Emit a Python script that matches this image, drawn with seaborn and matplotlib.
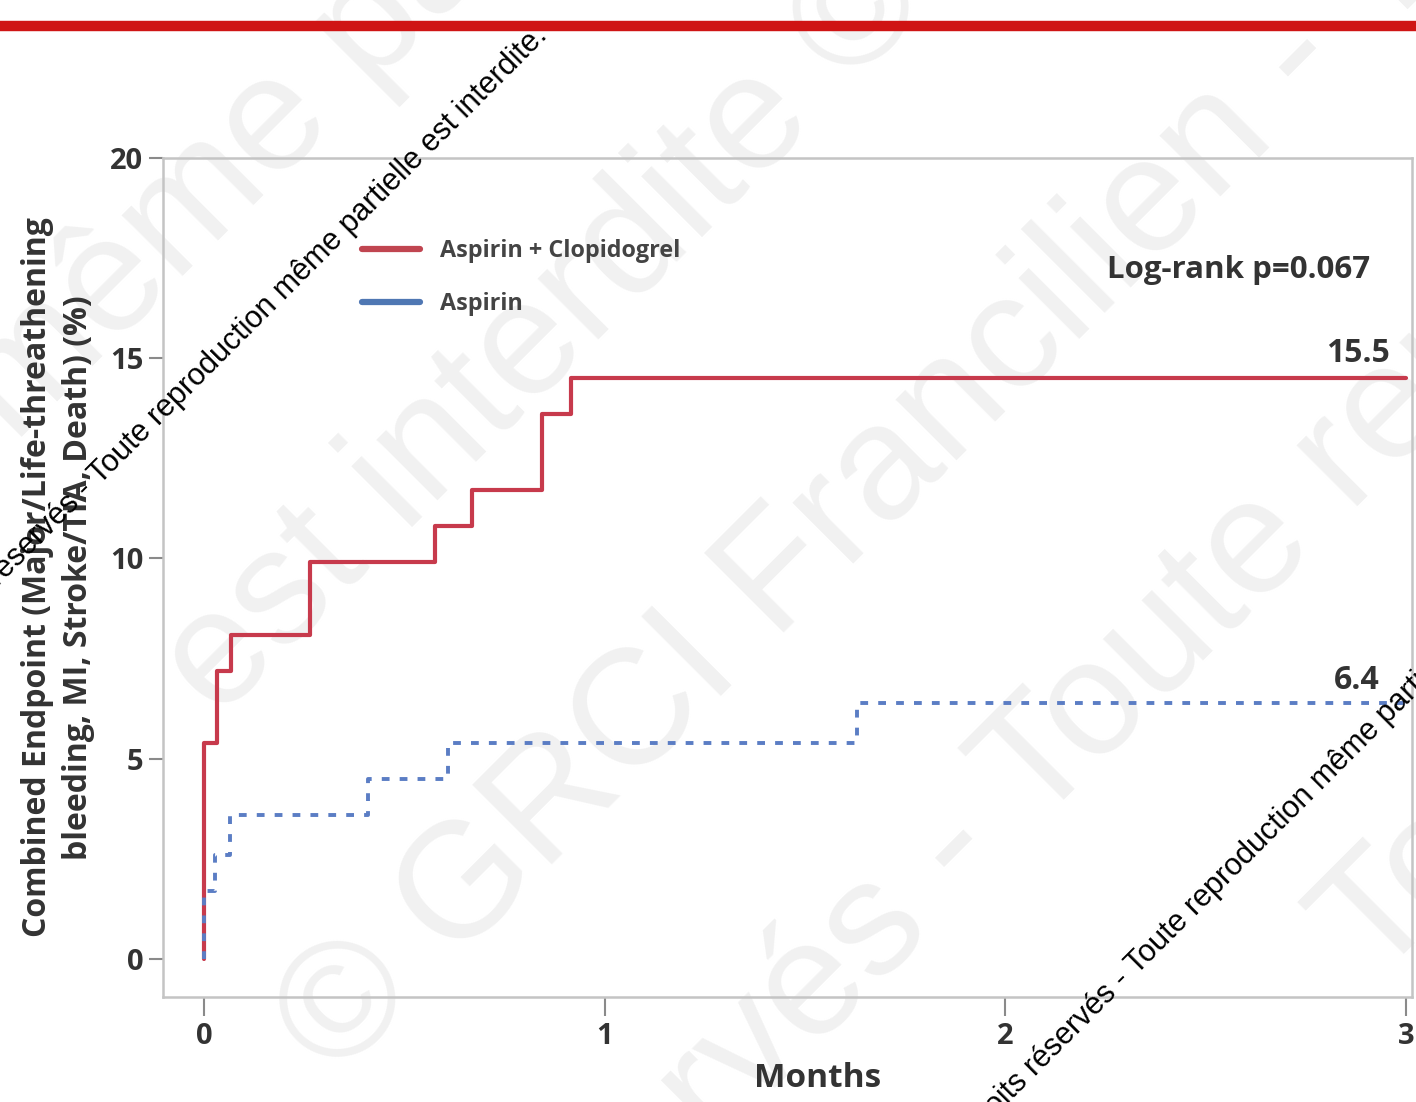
import numpy as np
import pandas as pd
import matplotlib
matplotlib.use("Agg")
import matplotlib.pyplot as plt
import seaborn as sns
from matplotlib.lines import Line2D

# Cumulative incidence of the combined endpoint (%), step changes by month
months_dapt = [0.0, 0.0, 0.032, 0.067, 0.265, 0.576, 0.669, 0.843, 0.916, 3.0]
rate_dapt = [0.0, 5.4, 7.2, 8.1, 9.9, 10.8, 11.7, 13.6, 14.5, 14.5]
months_sapt = [0.0, 0.0, 0.027, 0.065, 0.41, 0.61, 1.63, 3.0]
rate_sapt = [0.0, 1.7, 2.6, 3.6, 4.5, 5.4, 6.4, 6.4]

groups = ["Aspirin + Clopidogrel", "Aspirin"]
final_rate_labels = ["15.5", "6.4"]
p_value_text = "Log-rank p=0.067"
x_ticks = [0, 1, 2, 3]
y_ticks = [0, 5, 10, 15, 20]
x_label = "Months"
y_label = "Combined Endpoint (Major/Life-threathening\nbleeding, MI, Stroke/TIA, Death) (%)"
notice_left = "Tous droits réservés - "
notice_right = "Toute reproduction même partielle est interdite."

RED = "#c73a4c"
BLUE = "#5b7dc4"
TEXT = "#333333"

sns.set_theme(style="white")
plt.rcParams["font.family"] = ["Open Sans", "DejaVu Sans"]

W, H = 1416, 1102
fig = plt.figure(figsize=(W / 100, H / 100), dpi=100)
fig.patch.set_facecolor("white")


def fpos(px, py):
    return px / W, 1 - py / H


# faint background watermark
wm_kw = dict(fontsize=118, color="#f1f1f1", rotation=45, rotation_mode="anchor",
             va="baseline", family=["Liberation Sans", "DejaVu Sans"], zorder=-5)
fig.text(*fpos(-662, 1121), "reproduction même partielle", ha="left", **wm_kw)
fig.text(*fpos(218, 721), "est interdite © GRCI", ha="left", **wm_kw)
fig.text(*fpos(336, 1082), "© GRCI Francilien - Tous droits", ha="left", **wm_kw)
fig.text(*fpos(966, 898), "droits réservés ", ha="right", **wm_kw)
fig.text(*fpos(966, 898), "- Toute reproduction", ha="left", **wm_kw)
fig.text(*fpos(1375, 984), "Tous droits", ha="left", **wm_kw)

# red header rule
fig.add_artist(Line2D([0, 1], [1 - 26 / H, 1 - 26 / H], transform=fig.transFigure,
                      color="#cf1414", lw=7.5, zorder=1))

ax = fig.add_axes([163 / W, 1 - 997 / H, (1412 - 163) / W, (997 - 158) / H])
ax.set_facecolor("none")

df = pd.concat([
    pd.DataFrame({"Months": months_dapt, "Rate": rate_dapt, "Group": groups[0]}),
    pd.DataFrame({"Months": months_sapt, "Rate": rate_sapt, "Group": groups[1]}),
], ignore_index=True)

sns.lineplot(data=df[df["Group"] == groups[0]], x="Months", y="Rate", color=RED,
             lw=3.0, estimator=None, sort=False, drawstyle="steps-post",
             legend=False, ax=ax, zorder=3)
sns.lineplot(data=df[df["Group"] == groups[1]], x="Months", y="Rate", color=BLUE,
             lw=2.8, linestyle=(0, (2.0, 2.6)), estimator=None, sort=False,
             drawstyle="steps-post", legend=False, ax=ax, zorder=4)

ax.set_xlim(-0.102, 3.015)
ax.set_ylim(-0.95, 20)
ax.set_xticks(x_ticks, labels=[str(t) for t in x_ticks], fontweight="bold",
              fontsize=21, color=TEXT)
ax.set_yticks(y_ticks, labels=[str(t) for t in y_ticks], fontweight="bold",
              fontsize=21, color=TEXT)
ax.tick_params(axis="y", direction="out", length=10, width=1.5, color="#8a8a8a",
               pad=4, left=True)
ax.tick_params(axis="x", direction="out", length=14, width=1.5, color="#8a8a8a",
               pad=4, bottom=True)
for side in ["left", "right", "top", "bottom"]:
    ax.spines[side].set_visible(True)
    ax.spines[side].set_color("#c4c4c4")
    ax.spines[side].set_linewidth(1.8)

ax.set_xlabel(x_label, fontsize=24, fontweight="bold", color=TEXT)
ax.xaxis.set_label_coords((818 - 163) / 1249, (997 - 1062) / 839)
ax.set_ylabel(y_label, fontsize=23, fontweight="bold", color=TEXT,
              linespacing=1.3)
ax.yaxis.set_label_coords((95 - 163) / 1249, 0.5)

# end-of-follow-up rates above each curve
for rates, lab, xr, dy in [(rate_dapt, final_rate_labels[0], 2.96, 12),
                           (rate_sapt, final_rate_labels[1], 2.935, 9.5)]:
    ax.annotate(lab, xy=(xr, rates[-1]), xytext=(0, dy), textcoords="offset points",
                ha="right", va="baseline", fontsize=23, fontweight="bold", color=TEXT)

ax.text(2.91, 17.2, p_value_text, ha="right", va="center", fontsize=22.5,
        fontweight="bold", color=TEXT)

handles = [Line2D([], [], color="#c04550", lw=4.5),
           Line2D([], [], color="#4f77b3", lw=4.5)]
leg = ax.legend(handles, groups, loc="upper left",
                bbox_to_anchor=((362 - 163) / 1249, 1 - (239 - 158) / 839),
                frameon=False, fontsize=16.8, handlelength=2.5, handletextpad=0.85,
                labelspacing=1.25, borderpad=0, borderaxespad=0)
for t in leg.get_texts():
    t.set_fontweight("bold")
    t.set_color("#444444")

# copyright notices overlaid across the slide
nt_kw = dict(fontsize=22, color="black", rotation=45, rotation_mode="anchor",
             va="baseline", family=["Liberation Sans", "DejaVu Sans"], zorder=10)
for px, py in [(100, 485), (1137, 975)]:
    fig.text(*fpos(px, py), notice_left, ha="right", **nt_kw)
    fig.text(*fpos(px, py), notice_right, ha="left", **nt_kw)

fig.savefig("out.png", dpi=100, facecolor="white")
